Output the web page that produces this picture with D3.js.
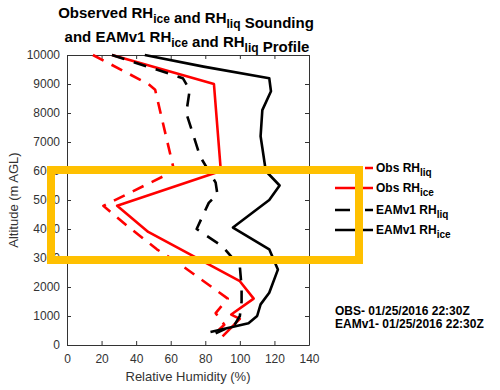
<!DOCTYPE html>
<html>
<head>
<meta charset="utf-8">
<script src="https://cdn.jsdelivr.net/npm/d3@7"></script>
<style>
  body { margin: 0; background: #fff; }
  svg text { font-family: Arial, "Liberation Sans", sans-serif; }
</style>
</head>
<body>
<div id="chart"></div>
<script>
// profiles as [RH %, altitude m]
const obsRhLiq = [[15,10000],[47,9000],[51,8800],[62,6000],[21,4800],[35,4100],[52,3300],[65,2800],[93,1600],[86,1100],[91,700],[84,300]];
const obsRhIce = [[26,10000],[85,9000],[89,6000],[29,4800],[47,3900],[100,2200],[108,1600],[95,1050],[100,900],[90,300]];
const eamRhLiq = [[26,10000],[67,9200],[71,8800],[69,8000],[77,6500],[82,6000],[86,5600],[87,5200],[82,4900],[75,4000],[90,3400],[100,2700],[101,2000],[101,1500],[100,1000],[97,700],[86,400]];
const eamRhIce = [[45,10000],[79,9600],[117,9200],[118,8750],[113,8100],[112,7200],[113,6800],[115,6000],[123,5500],[117,5000],[96,4050],[117,3300],[122,2600],[117,1800],[112,1400],[110,1000],[105,750],[83,450]];

const xTicks = [0, 20, 40, 60, 80, 100, 120, 140];
const yTicks = [0, 1000, 2000, 3000, 4000, 5000, 6000, 7000, 8000, 9000, 10000];

const series = [
	{ name: "Obs RH", sub: "liq", data: obsRhLiq, color: "#ff0000", dash: "12,9" },
	{ name: "Obs RH", sub: "ice", data: obsRhIce, color: "#ff0000", dash: null },
	{ name: "EAMv1 RH", sub: "liq", data: eamRhLiq, color: "#000", dash: "13,10" },
	{ name: "EAMv1 RH", sub: "ice", data: eamRhIce, color: "#000", dash: null }
];

const svg = d3.select("#chart").append("svg")
	.attr("width", 500)
	.attr("height", 390);

const x = d3.scaleLinear().domain([0, 140]).range([67, 309]);
const y = d3.scaleLinear().domain([0, 10000]).range([345, 55]);

const axisColor = "#333";

// axes, MATLAB style ticks pointing inwards
svg.append("g")
	.attr("transform", "translate(0,345)")
	.call(d3.axisBottom(x).tickValues(xTicks).tickSizeInner(-4).tickSizeOuter(0).tickPadding(9));
svg.append("g")
	.attr("transform", "translate(67,0)")
	.call(d3.axisLeft(y).tickValues(yTicks).tickFormat(d3.format("d")).tickSizeInner(-4).tickSizeOuter(0).tickPadding(7));
svg.append("g")
	.attr("transform", "translate(0,55)")
	.call(d3.axisTop(x).tickValues(xTicks).tickSizeInner(-4).tickSizeOuter(0).tickFormat(""));
svg.append("g")
	.attr("transform", "translate(309,0)")
	.call(d3.axisRight(y).tickValues(yTicks).tickSizeInner(-4).tickSizeOuter(0).tickFormat(""));

svg.selectAll(".domain, .tick line").attr("stroke", axisColor);
svg.selectAll(".tick text").attr("fill", axisColor).style("font-size", "12px");

svg.append("text")
	.attr("x", 188).attr("y", 381)
	.attr("text-anchor", "middle")
	.attr("fill", axisColor)
	.style("font-size", "13px")
	.text("Relative Humidity (%)");

svg.append("text")
	.attr("transform", "translate(18,200) rotate(-90)")
	.attr("text-anchor", "middle")
	.attr("fill", axisColor)
	.style("font-size", "13px")
	.text("Altitude (m AGL)");

// profile lines
const line = d3.line().x(d => x(d[0])).y(d => y(d[1]));

svg.append("g").selectAll("path")
	.data(series)
	.enter().append("path")
	.attr("d", d => line(d.data))
	.attr("fill", "none")
	.attr("stroke", d => d.color)
	.attr("stroke-width", 2.6)
	.attr("stroke-dasharray", d => d.dash)
	.attr("stroke-linejoin", "round");

// title with subscripts
function subText(sel, parts) {
	parts.forEach(p => {
		if (p.sub) {
			sel.append("tspan").attr("dy", 5).style("font-size", "12px").text(p.t);
			sel.append("tspan").attr("dy", -5).text("");
		} else {
			sel.append("tspan").text(p.t);
		}
	});
}

const t1 = svg.append("text")
	.attr("x", 186).attr("y", 18)
	.attr("text-anchor", "middle")
	.style("font-size", "15px").style("font-weight", "bold");
subText(t1, [{ t: "Observed RH" }, { t: "ice", sub: true }, { t: " and RH" }, { t: "liq", sub: true }, { t: " Sounding" }]);

const t2 = svg.append("text")
	.attr("x", 187).attr("y", 42)
	.attr("text-anchor", "middle")
	.style("font-size", "15px").style("font-weight", "bold");
subText(t2, [{ t: "and EAMv1 RH" }, { t: "ice", sub: true }, { t: " and RH" }, { t: "liq", sub: true }, { t: " Profile" }]);

// legend
const legendY = [168, 188, 210, 230];
const legend = svg.append("g").selectAll("g")
	.data(series)
	.enter().append("g")
	.attr("transform", (d, i) => "translate(0," + legendY[i] + ")");

legend.append("line")
	.attr("x1", 335).attr("x2", 373)
	.attr("stroke", d => d.color)
	.attr("stroke-width", 2.6)
	.attr("stroke-dasharray", d => d.dash ? "15,15" : null);

legend.append("text")
	.attr("x", 376).attr("y", 4)
	.style("font-size", "12px").style("font-weight", "bold")
	.each(function(d) {
		const s = d3.select(this);
		s.append("tspan").text(d.name);
		s.append("tspan").attr("dy", 4).style("font-size", "10px").text(d.sub);
	});

// run times
svg.append("text")
	.attr("x", 335).attr("y", 315)
	.style("font-size", "12px").style("font-weight", "bold")
	.text("OBS- 01/25/2016 22:30Z");
svg.append("text")
	.attr("x", 335).attr("y", 328)
	.style("font-size", "12px").style("font-weight", "bold")
	.text("EAMv1- 01/25/2016 22:30Z");

// highlight box drawn over everything
svg.append("rect")
	.attr("x", 51).attr("y", 170)
	.attr("width", 308).attr("height", 90)
	.attr("fill", "none")
	.attr("stroke", "#ffc000")
	.attr("stroke-width", 8);
</script>
</body>
</html>
